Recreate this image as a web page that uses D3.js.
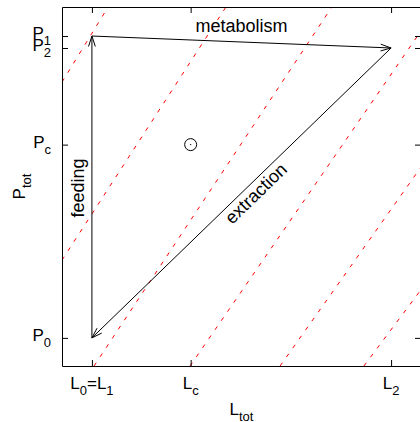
<!DOCTYPE html>
<html>
<head>
<meta charset="utf-8">
<script src="https://cdn.jsdelivr.net/npm/d3@7"></script>
<style>
  html, body { margin: 0; padding: 0; background: #fff; }
  svg { display: block; }
  text { font-family: "Liberation Sans", Arial, Helvetica, sans-serif; fill: #000; }
</style>
</head>
<body>
<svg id="chart" width="420" height="422"></svg>
<script>
// ---- data ----
const xDomain = [0, 12];
const yDomain = [0, 12];
const xTicks = [1.0, 4.3, 11.0];
const xTickLabels = ["L_0=L_1", "L_c", "L_2"];
const yTicks = [0.94, 7.4, 11.03, 10.63];
const yTickLabels = ["P_0", "P_c", "P_1", "P_2"];
const xAxisLabel = "L_{tot}";
const yAxisLabel = "P_{tot}";
const criticalPoint = [4.3, 7.4];
// cycle: feeding, metabolism, extraction
const arrowFrom = [[1.0, 0.94], [1.0, 11.03], [11.0, 10.63]];
const arrowTo   = [[1.0, 11.03], [11.0, 10.63], [1.0, 0.94]];
const arrowLabels = ["feeding", "metabolism", "extraction"];
// red dashed iso-lines (start, end) in data units
const isoLines = [
  [[0, 9.49], [1.54, 12]],
  [[0, 3.54], [5.48, 12]],
  [[1.07, 0], [9.02, 12]],
  [[4.28, 0], [12, 11.2]],
  [[7.29, 0], [12, 6.65]],
  [[10.09, 0], [12, 2.55]]
];

// ---- layout ----
const mLeft = 62, mRight = 421, mTop = 7, mBottom = 366;
const FS = 17, FSL = 18, SUB = 13, SUBDY = 6;

const svg = d3.select("#chart");
const x = d3.scaleLinear().domain(xDomain).range([mLeft, mRight]);
const y = d3.scaleLinear().domain(yDomain).range([mBottom, mTop]);

function richText(sel, str) {
  const re = /_\{([^}]*)\}|_(.)|([^_]+)/g;
  let m, sub = false;
  while ((m = re.exec(str)) !== null) {
    if (m[3] !== undefined) {
      const t = sel.append("tspan").text(m[3]);
      if (sub) { t.attr("dy", -SUBDY); sub = false; }
    } else {
      const s = m[1] !== undefined ? m[1] : m[2];
      sel.append("tspan").attr("dy", SUBDY).attr("font-size", SUB).text(s);
      sub = true;
    }
  }
}

svg.append("defs").append("clipPath").attr("id", "plotclip")
  .append("rect").attr("x", mLeft).attr("y", mTop)
  .attr("width", mRight - mLeft).attr("height", mBottom - mTop);

// iso-lines
const line = d3.line().x(d => x(d[0])).y(d => y(d[1]));
svg.append("g").attr("clip-path", "url(#plotclip)")
  .selectAll("path").data(isoLines).join("path")
  .attr("d", line)
  .attr("fill", "none")
  .attr("stroke", "#ff0000")
  .attr("stroke-width", 1)
  .attr("stroke-dasharray", "4,7");

// axes (ticks inward, mirrored)
function styleAxis(g) {
  g.selectAll("path.domain").attr("stroke", "#000").attr("stroke-width", 1);
  g.selectAll(".tick line").attr("stroke", "#000").attr("stroke-width", 1);
  g.selectAll(".tick text").remove();
}
svg.append("g").attr("transform", `translate(0,${mBottom})`)
  .call(d3.axisBottom(x).tickValues(xTicks).tickSize(-6).tickSizeOuter(0).tickFormat(""))
  .call(styleAxis);
svg.append("g").attr("transform", `translate(0,${mTop})`)
  .call(d3.axisTop(x).tickValues(xTicks).tickSize(-6).tickSizeOuter(0).tickFormat(""))
  .call(styleAxis);
svg.append("g").attr("transform", `translate(${mLeft},0)`)
  .call(d3.axisLeft(y).tickValues(yTicks).tickSize(-6).tickSizeOuter(0).tickFormat(""))
  .call(styleAxis);
svg.append("g").attr("transform", `translate(${mRight},0)`)
  .call(d3.axisRight(y).tickValues(yTicks).tickSize(-6).tickSizeOuter(0).tickFormat(""))
  .call(styleAxis);

// tick labels
xTicks.forEach((v, i) => {
  const t = svg.append("text").attr("x", x(v)).attr("y", 389)
    .attr("text-anchor", "middle").attr("font-size", FS);
  richText(t, xTickLabels[i]);
});
yTicks.forEach((v, i) => {
  const t = svg.append("text").attr("x", 51).attr("y", y(v) + 3)
    .attr("text-anchor", "end").attr("font-size", FS);
  richText(t, yTickLabels[i]);
});

// axis labels
const xl = svg.append("text").attr("x", (mLeft + mRight) / 2).attr("y", 415)
  .attr("text-anchor", "middle").attr("font-size", FS);
richText(xl, xAxisLabel);
const yl = svg.append("text").attr("transform", `translate(25,${(mTop + mBottom) / 2}) rotate(-90)`)
  .attr("text-anchor", "middle").attr("font-size", FS);
richText(yl, yAxisLabel);

// arrows
const headLen = 11, headAng = 18 * Math.PI / 180;
const ag = svg.append("g").attr("stroke", "#000").attr("stroke-width", 1).attr("fill", "none");
arrowFrom.forEach((f, i) => {
  const t = arrowTo[i];
  const x1 = x(f[0]), y1 = y(f[1]), x2 = x(t[0]), y2 = y(t[1]);
  ag.append("line").attr("x1", x1).attr("y1", y1).attr("x2", x2).attr("y2", y2);
  const a = Math.atan2(y2 - y1, x2 - x1);
  const p1 = [x2 - headLen * Math.cos(a - headAng), y2 - headLen * Math.sin(a - headAng)];
  const p2 = [x2 - headLen * Math.cos(a + headAng), y2 - headLen * Math.sin(a + headAng)];
  ag.append("path").attr("d", `M${p1[0]},${p1[1]}L${x2},${y2}L${p2[0]},${p2[1]}`);
});

// arrow labels
const fx = x(arrowFrom[0][0]);
svg.append("text").attr("transform", `translate(${fx - 8},${(y(arrowFrom[0][1]) + y(arrowTo[0][1])) / 2 + 1}) rotate(-90)`)
  .attr("text-anchor", "middle").attr("font-size", FSL).text(arrowLabels[0]);
svg.append("text").attr("x", (x(arrowFrom[1][0]) + x(arrowTo[1][0])) / 2).attr("y", 31.5)
  .attr("text-anchor", "middle").attr("font-size", FSL).text(arrowLabels[1]);
{
  const x1 = x(arrowFrom[2][0]), y1 = y(arrowFrom[2][1]), x2 = x(arrowTo[2][0]), y2 = y(arrowTo[2][1]);
  const ang = Math.atan2(y1 - y2, x1 - x2) * 180 / Math.PI;
  const mx = (x1 + x2) / 2, my = (y1 + y2) / 2;
  const r = Math.atan2(y1 - y2, x1 - x2);
  const along = 10, perp = 16.5;
  const tx = mx + along * Math.cos(r) - perp * Math.sin(r);
  const ty = my + along * Math.sin(r) + perp * Math.cos(r);
  svg.append("text").attr("transform", `translate(${tx},${ty}) rotate(${ang})`)
    .attr("text-anchor", "middle").attr("font-size", FSL).text(arrowLabels[2]);
}

// critical point
svg.append("circle").attr("cx", x(criticalPoint[0])).attr("cy", y(criticalPoint[1])).attr("r", 6)
  .attr("fill", "none").attr("stroke", "#000").attr("stroke-width", 1);
svg.append("circle").attr("cx", x(criticalPoint[0])).attr("cy", y(criticalPoint[1])).attr("r", 0.7)
  .attr("fill", "#000");
</script>
</body>
</html>
